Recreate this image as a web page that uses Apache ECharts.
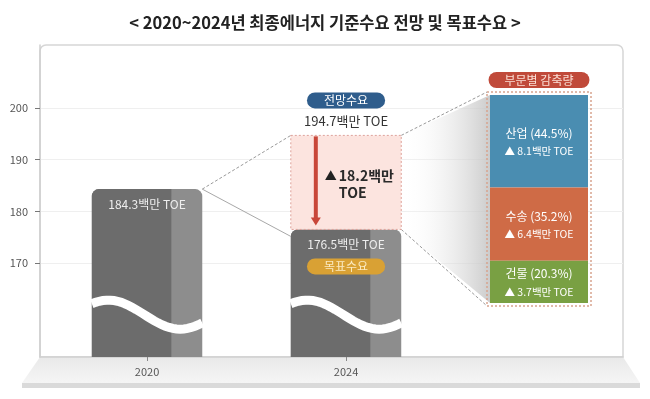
<!DOCTYPE html>
<html lang="ko">
<head>
<meta charset="UTF-8">
<title>최종에너지 기준수요 전망 및 목표수요</title>
<script src="https://cdn.jsdelivr.net/npm/echarts@6/dist/echarts.min.js"></script>
<style>
    html, body { margin: 0; padding: 0; background: #fff; }
    #chart { width: 650px; height: 399px; }
</style>
</head>
<body>
<div id="chart"></div>
<script>
// data
var years = ['2020', '2024'];
var demand = [184.3, 176.5];      // 2020 실적, 2024 목표수요 (백만 TOE)
var forecast2024 = 194.7;         // 2024 전망수요
var reduction = 18.2;             // 감축량
var sectors = ['산업', '수송', '건물'];
var sectorShare = [44.5, 35.2, 20.3];
var sectorCut = [8.1, 6.4, 3.7];
var yTicks = [170, 180, 190, 200];

// layout
var FONT = '"Noto Sans CJK KR", "Noto Sans", sans-serif';
var Y_MIN = 151.8, Y_MAX = 212.2;
var X_MIN = 0.462, X_MAX = 3.392;
var BAR_W = 0.555;
var WAVE_AT = 160;
var PANEL = {left: 490, top: 95, width: 98, height: 208};
var sectorColors = ['#4a8db1', '#cf6b46', '#79a043'];

var chart = echarts.init(document.getElementById('chart'));

function pill(text, x, y, bg, fg, padX) {
    return {
        type: 'text',
        style: {
            text: text, x: x, y: y, align: 'center', verticalAlign: 'middle',
            fill: fg, fontSize: 12, fontFamily: FONT,
            backgroundColor: bg, padding: [2, padX], borderRadius: 8
        }
    };
}

function renderBar(params, api) {
    var x = api.value(0), v = api.value(1);
    var top = api.coord([x, v]);
    var base = api.coord([x, Y_MIN]);
    var w = api.size([BAR_W, 0])[0];
    var left = top[0] - w / 2;
    var h = base[1] - top[1];
    var mid = api.coord([x, WAVE_AT])[1];
    var pts = [];
    for (var k = 0; k <= 30; k++) {
        var t = k / 30;
        pts.push([left + t * w, mid - 14.5 * Math.cos(2 * Math.PI * (t - 0.15) / 1.3)]);
    }
    var kids = [
        {type: 'rect', shape: {x: left, y: top[1], width: w, height: h, r: [7, 7, 0, 0]}, style: {fill: '#8d8d8d'}},
        {type: 'rect', shape: {x: left, y: top[1], width: w * 0.72, height: h, r: [7, 0, 0, 0]}, style: {fill: '#6c6c6c'}},
        {type: 'polyline', shape: {points: pts}, style: {stroke: '#fff', lineWidth: 9, fill: null}},
        {type: 'text', style: {text: v + '백만 TOE', x: top[0], y: top[1] + 15, align: 'center', verticalAlign: 'middle',
            fill: '#eeeeee', fontSize: 12, fontFamily: FONT}}
    ];
    if (params.dataIndex === 1) {
        kids.push(pill('목표수요', top[0], top[1] + 37, '#d9a134', '#fbeac0', 17));
    }
    return {type: 'group', children: kids};
}

function renderForecast(params, api) {
    var x = api.value(0);
    var lo = api.coord([x, api.value(1)]);
    var hi = api.coord([x, api.value(2)]);
    var w = api.size([BAR_W, 0])[0];
    var left = hi[0] - w / 2;
    var prev = api.coord([1, demand[0]]);
    var prevRight = prev[0] + w / 2;
    var ax = left + 25;
    return {
        type: 'group',
        children: [
            {type: 'line', shape: {x1: prevRight, y1: prev[1], x2: left, y2: hi[1]},
                style: {stroke: '#9a9a9a', lineWidth: 1, lineDash: [3, 2]}},
            {type: 'line', shape: {x1: prevRight, y1: prev[1], x2: left, y2: lo[1] + 7},
                style: {stroke: '#a8a8a8', lineWidth: 1}},
            {type: 'rect', shape: {x: left, y: hi[1], width: w, height: lo[1] - hi[1]},
                style: {fill: '#fce4df', stroke: '#dea29a', lineWidth: 1, lineDash: [2, 2]}},
            {type: 'line', shape: {x1: ax, y1: hi[1] + 1, x2: ax, y2: lo[1] - 11},
                style: {stroke: '#c8473a', lineWidth: 4}},
            {type: 'polygon', shape: {points: [[ax - 5, lo[1] - 12], [ax + 5, lo[1] - 12], [ax, lo[1] - 4]]},
                style: {fill: '#c8473a'}},
            {type: 'text', style: {text: '▲', x: left + 40, y: (hi[1] + lo[1]) / 2 - 6, align: 'center', verticalAlign: 'middle',
                fill: '#222', fontSize: 12, fontFamily: FONT}},
            {type: 'text', style: {text: reduction + '백만\nTOE', x: left + 48, y: (hi[1] + lo[1]) / 2 + 2,
                align: 'left', verticalAlign: 'middle', lineHeight: 17,
                fill: '#2a2a2a', fontSize: 14, fontWeight: 'bold', fontFamily: FONT}},
            {type: 'text', style: {text: api.value(2) + '백만 TOE', x: hi[0], y: hi[1] - 14, align: 'center', verticalAlign: 'middle',
                fill: '#333', fontSize: 13, fontFamily: FONT}},
            pill('전망수요', hi[0], hi[1] - 35, '#2f5d8c', '#ffffff', 17)
        ]
    };
}

var panelSeries = sectors.map(function (name, i) {
    return {
        type: 'bar',
        name: name,
        xAxisIndex: 1,
        yAxisIndex: 1,
        stack: 'cut',
        barWidth: '100%',
        data: [sectorShare[i]],
        itemStyle: {color: sectorColors[i]},
        label: {
            show: true,
            position: 'inside',
            formatter: '{a|' + name + ' (' + sectorShare[i] + '%)}\n{b|▲ ' + sectorCut[i] + '백만 TOE}',
            rich: {
                a: {color: '#fff', fontSize: 12, lineHeight: 20, fontFamily: FONT},
                b: {color: '#fff', fontSize: 10.5, lineHeight: 16, fontFamily: FONT}
            }
        }
    };
});

var option = {
    animation: false,
    textStyle: {fontFamily: FONT},
    title: {
        text: '< 2020~2024년 최종에너지 기준수요 전망 및 목표수요 >',
        left: 'center',
        top: 9,
        textStyle: {fontSize: 16.5, fontWeight: 'bold', color: '#222', fontFamily: FONT}
    },
    grid: [
        {left: 40, right: 27, top: 45, bottom: 42},
        {left: PANEL.left, top: PANEL.top, width: PANEL.width, height: PANEL.height}
    ],
    xAxis: [
        {
            type: 'value', gridIndex: 0, min: X_MIN, max: X_MAX,
            axisLine: {lineStyle: {color: '#cfcfcf', width: 1.5}},
            splitLine: {show: false},
            axisTick: {customValues: [1, 2], length: 4, lineStyle: {color: '#888'}},
            axisLabel: {customValues: [1, 2], margin: 9, color: '#555', fontSize: 11,
                formatter: function (v) { return years[Math.round(v) - 1]; }}
        },
        {type: 'category', gridIndex: 1, data: ['부문별'], show: false}
    ],
    yAxis: [
        {
            type: 'value', gridIndex: 0, min: Y_MIN, max: Y_MAX,
            axisLine: {show: true, lineStyle: {color: '#cfcfcf', width: 1.5}},
            axisTick: {show: true, customValues: yTicks, length: 5, lineStyle: {color: '#777'}},
            axisLabel: {customValues: yTicks, margin: 12, color: '#555', fontSize: 11},
            splitLine: {lineStyle: {color: '#efefef'}}
        },
        {type: 'value', gridIndex: 1, min: 0, max: 100, inverse: true, show: false}
    ],
    series: [
        {
            type: 'custom', xAxisIndex: 0, yAxisIndex: 0,
            data: years.map(function (y, i) { return [i + 1, demand[i]]; }),
            renderItem: renderBar
        },
        {
            type: 'custom', xAxisIndex: 0, yAxisIndex: 0,
            data: [[2, demand[1], forecast2024]],
            renderItem: renderForecast
        }
    ].concat(panelSeries)
};

chart.setOption(option);

// decorations tied to the axes
var gTL = chart.convertToPixel({gridIndex: 0}, [X_MIN, Y_MAX]);
var gBR = chart.convertToPixel({gridIndex: 0}, [X_MAX, Y_MIN]);
var fr = chart.convertToPixel({gridIndex: 0}, [2 + BAR_W / 2, forecast2024]);
var br = chart.convertToPixel({gridIndex: 0}, [2 + BAR_W / 2, demand[1]]);
var pt = chart.convertToPixel({gridIndex: 1}, [0, 0]);
var pb = chart.convertToPixel({gridIndex: 1}, [0, 100]);
var pl = pt[0] - PANEL.width / 2;

chart.setOption({
    graphic: [
        {type: 'rect', z: -10, shape: {x: gTL[0], y: gTL[1], width: gBR[0] - gTL[0], height: gBR[1] - gTL[1], r: [6, 6, 0, 0]},
            style: {fill: '#fff', stroke: '#d6d6d6', lineWidth: 1.5}},
        {type: 'polygon', z: -10, shape: {points: [[gTL[0], gBR[1]], [gBR[0], gBR[1]], [gBR[0] + 17, gBR[1] + 26], [gTL[0] - 18, gBR[1] + 26]]},
            style: {fill: new echarts.graphic.LinearGradient(0, 0, 0, 1, [{offset: 0, color: '#e9e9e9'}, {offset: 1, color: '#f5f5f5'}])}},
        {type: 'rect', z: -10, shape: {x: gTL[0] - 18, y: gBR[1] + 26, width: gBR[0] - gTL[0] + 35, height: 5},
            style: {fill: '#dadada'}},
        {type: 'polygon', z: 1, shape: {points: [[fr[0], fr[1]], [pl, pt[1]], [pl, pb[1]], [br[0], br[1]]]},
            style: {fill: new echarts.graphic.LinearGradient(0, 0, 1, 0, [{offset: 0, color: 'rgba(255,255,255,0)'}, {offset: 1, color: 'rgba(195,195,195,0.85)'}])}},
        {type: 'line', z: 1, shape: {x1: fr[0], y1: fr[1], x2: pl - 3, y2: pt[1] - 3}, style: {stroke: '#999', lineDash: [3, 2]}},
        {type: 'line', z: 1, shape: {x1: br[0], y1: br[1], x2: pl - 3, y2: pb[1] + 3}, style: {stroke: '#999', lineDash: [3, 2]}},
        {type: 'rect', z: 10, shape: {x: pl - 3, y: pt[1] - 3, width: PANEL.width + 6, height: pb[1] - pt[1] + 6},
            style: {fill: null, stroke: '#d8a48e', lineWidth: 1.5, lineDash: [2, 2]}},
        {type: 'text', z: 10, style: {text: '부문별 감축량', x: pt[0], y: pt[1] - 15, align: 'center', verticalAlign: 'middle',
            fill: '#fbe0d6', fontSize: 12, fontFamily: FONT, backgroundColor: '#c04a3a', padding: [2, 16], borderRadius: 8}}
    ]
});
</script>
</body>
</html>
